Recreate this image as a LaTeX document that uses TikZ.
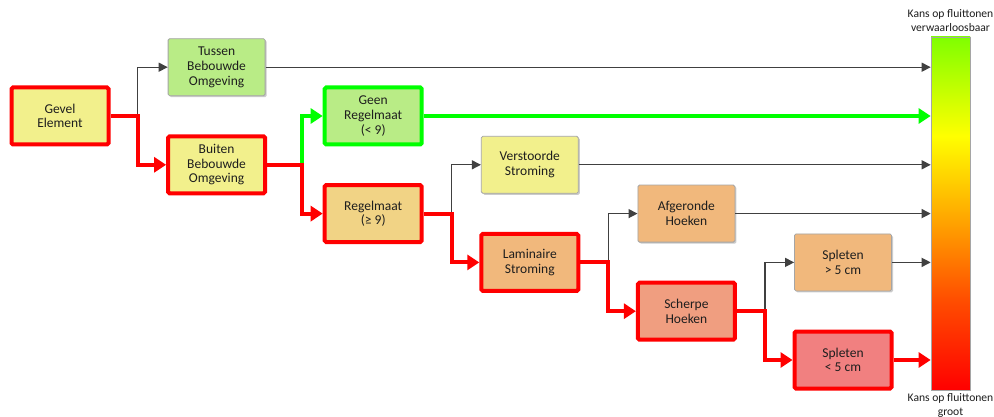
\documentclass[tikz,border=0pt]{standalone}
\usepackage{fontspec}
\setmainfont{Carlito}
\usepackage{xcolor}
\usepackage{tikz}
\usetikzlibrary{arrows.meta,positioning,shadows}

\definecolor{geelvak}{RGB}{242,240,140}
\definecolor{groenvak}{RGB}{185,236,134}
\definecolor{regelvak}{RGB}{241,211,133}
\definecolor{oranjevak}{RGB}{241,184,124}
\definecolor{zalmvak}{RGB}{240,158,128}
\definecolor{roodvak}{RGB}{241,128,128}
\definecolor{pijlgrijs}{RGB}{64,64,64}
\definecolor{randgrijs}{RGB}{165,165,165}
\definecolor{felrood}{RGB}{255,0,0}
\definecolor{felgroen}{RGB}{0,255,0}
\definecolor{tekst}{RGB}{30,30,30}

\pgfdeclareverticalshading{kansschaal}{100bp}{rgb(0bp)=(1,0,0); rgb(25bp)=(1,0,0);
  rgb(38bp)=(1,0.31,0); rgb(47.5bp)=(1,0.6,0); rgb(61bp)=(1,1,0);
  rgb(75bp)=(0.5,1,0); rgb(100bp)=(0.5,1,0)}

\begin{document}
\begin{tikzpicture}[x=1pt,y=1pt,node distance=48.8pt and 156.6pt,
    vak/.style={rectangle,rounded corners=1.5pt,minimum width=97pt,minimum height=57pt,
      inner sep=0pt,align=center,text=tekst,font=\fontsize{13.5}{14.7}\selectfont,on grid},
    dunvak/.style={vak,draw=randgrijs,line width=0.8pt,
      drop shadow={shadow xshift=1.5pt,shadow yshift=-1.5pt,fill=black!40,opacity=0.5}},
    roodrand/.style={vak,draw=felrood,line width=4pt},
    groenrand/.style={vak,draw=felgroen,line width=4pt},
    graylink/.style={draw=pijlgrijs,line width=1.3pt,-{Triangle[length=9pt,width=9pt]}},
    redlink/.style={draw=felrood,line width=4pt,-{Triangle[length=12pt,width=15pt]}},
    greenlink/.style={redlink,draw=felgroen},
    schaaltekst/.style={align=center,inner sep=0pt,text=tekst,font=\fontsize{11.6}{13.5}\selectfont}]

\useasboundingbox[fill=white] (0,0) rectangle (994,-417);

\node[roodrand,fill=geelvak] (gevel) at (60,-116) {Gevel\\Element};
\node[dunvak,fill=groenvak] (tussen) [above right=of gevel] {Tussen\\Bebouwde\\Omgeving};
\node[roodrand,fill=geelvak] (buiten) [below right=of gevel] {Buiten\\Bebouwde\\Omgeving};
\node[groenrand,fill=groenvak] (geen) [above right=of buiten] {Geen\\Regelmaat\\(< 9)};
\node[roodrand,fill=regelvak] (regel) [below right=of buiten] {Regelmaat\\(≥ 9)};
\node[dunvak,fill=geelvak] (verstoord) [above right=of regel] {Verstoorde\\Stroming};
\node[roodrand,fill=oranjevak] (laminair) [below right=of regel] {Laminaire\\Stroming};
\node[dunvak,fill=oranjevak] (afgerond) [above right=of laminair] {Afgeronde\\Hoeken};
\node[roodrand,fill=zalmvak] (scherp) [below right=of laminair] {Scherpe\\Hoeken};
\node[dunvak,fill=oranjevak] (spleetgroot) [above right=of scherp] {Spleten\\> 5 cm};
\node[roodrand,fill=roodvak] (spleetklein) [below right=of scherp] {Spleten\\< 5 cm};

\node[draw=randgrijs,line width=0.6pt,shading=kansschaal,minimum width=39pt,
  minimum height=353pt,inner sep=0pt] (kans) at (950.5,-213.5) {};
\node[schaaltekst,above=5pt of kans] (kansklein) {Kans op fluittonen\\verwaarloosbaar};
\node[schaaltekst,below=3.5pt of kans] (kansgroot) {Kans op fluittonen\\groot};

\draw[graylink] (gevel.east) -- ++(27,0) |- (tussen.west);
\draw[graylink] (tussen.east) -- (kans.west |- tussen.east);
\draw[greenlink] (buiten.east) -- ++(35,0) |- (geen.west);
\draw[greenlink] (geen.east) -- (kans.west |- geen.east);
\draw[graylink] (regel.east) -- ++(28,0) |- (verstoord.west);
\draw[graylink] (verstoord.east) -- (kans.west |- verstoord.east);
\draw[graylink] (laminair.east) -- ++(28,0) |- (afgerond.west);
\draw[graylink] (afgerond.east) -- (kans.west |- afgerond.east);
\draw[graylink] (scherp.east) -- ++(28,0) |- (spleetgroot.west);
\draw[graylink] (spleetgroot.east) -- (kans.west |- spleetgroot.east);

\draw[redlink] (gevel.east) -- ++(27,0) |- (buiten.west);
\draw[redlink] (buiten.east) -- ++(35,0) |- (regel.west);
\draw[redlink] (regel.east) -- ++(28,0) |- (laminair.west);
\draw[redlink] (laminair.east) -- ++(28,0) |- (scherp.west);
\draw[redlink] (scherp.east) -- ++(28,0) |- (spleetklein.west);
\draw[redlink] (spleetklein.east) -- (kans.west |- spleetklein.east);

\end{tikzpicture}
\end{document}
